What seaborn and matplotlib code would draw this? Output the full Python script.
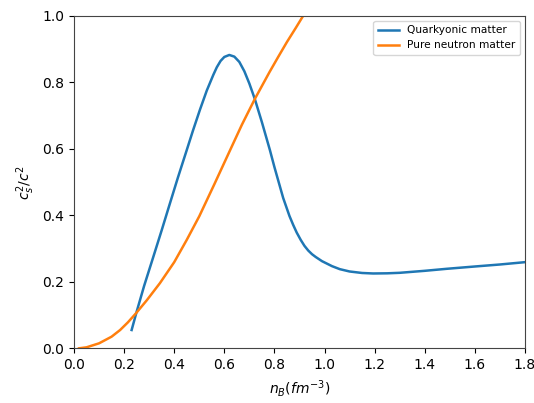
import matplotlib
matplotlib.use("Agg")
import matplotlib.pyplot as plt
import seaborn as sns
import pandas as pd

# Quarkyonic matter
qm_n = [0.230, 0.25, 0.28, 0.317, 0.35, 0.383, 0.415, 0.45, 0.475, 0.503, 0.53, 0.556, 0.57, 0.585,
        0.60, 0.62, 0.64, 0.66, 0.68, 0.70, 0.722, 0.75, 0.782, 0.80, 0.835, 0.86, 0.875, 0.889,
        0.905, 0.92, 0.935, 0.95, 0.965, 0.99, 1.03, 1.061, 1.10, 1.15, 1.194, 1.25, 1.30, 1.40,
        1.487, 1.60, 1.70, 1.80]
qm_cs2 = [0.055, 0.11, 0.188, 0.276, 0.355, 0.436, 0.514, 0.596, 0.655, 0.718, 0.775, 0.822, 0.845,
          0.864, 0.876, 0.882, 0.877, 0.861, 0.833, 0.796, 0.749, 0.680, 0.596, 0.545, 0.452, 0.398,
          0.371, 0.348, 0.326, 0.308, 0.294, 0.283, 0.2745, 0.262, 0.247, 0.238, 0.231, 0.2265,
          0.225, 0.2255, 0.227, 0.233, 0.239, 0.246, 0.252, 0.259]

# Pure neutron matter
pnm_n = [0.02, 0.05, 0.10, 0.15, 0.184, 0.215, 0.247, 0.29, 0.343, 0.40, 0.45, 0.50, 0.56, 0.622,
         0.67, 0.722, 0.78, 0.815, 0.85, 0.885, 0.915, 0.95]
pnm_cs2 = [0.0, 0.003, 0.015, 0.035, 0.055, 0.078, 0.105, 0.144, 0.196, 0.259, 0.326, 0.397, 0.493,
           0.594, 0.672, 0.750, 0.830, 0.876, 0.921, 0.963, 1.0, 1.042]

labels = ["Quarkyonic matter", "Pure neutron matter"]

df = pd.concat([
    pd.DataFrame({"n": qm_n, "cs2": qm_cs2, "label": labels[0]}),
    pd.DataFrame({"n": pnm_n, "cs2": pnm_cs2, "label": labels[1]}),
], ignore_index=True)

fig, ax = plt.subplots(figsize=(5.34, 4.03), dpi=100)
fig.subplots_adjust(left=0.1386, right=0.983, top=0.961, bottom=0.1357)

sns.lineplot(data=df, x="n", y="cs2", hue="label", sort=False, estimator=None,
             palette=["#1f77b4", "#ff7f0e"], linewidth=1.8, ax=ax)

ax.set_xlim(0, 1.8)
ax.set_ylim(0, 1.0)
ax.set_xticks([0.0, 0.2, 0.4, 0.6, 0.8, 1.0, 1.2, 1.4, 1.6, 1.8])
ax.set_yticks([0.0, 0.2, 0.4, 0.6, 0.8, 1.0])
ax.tick_params(labelsize=10)
for s in ax.spines.values():
    s.set_color("#444444")
ax.set_xlabel(r"$n_B(fm^{-3})$", fontsize=10)
ax.set_ylabel(r"$c_s^2/c^2$", fontsize=10)
ax.legend(title=None, loc="upper right", fontsize=7.6)

fig.savefig("out.png", dpi=100)
